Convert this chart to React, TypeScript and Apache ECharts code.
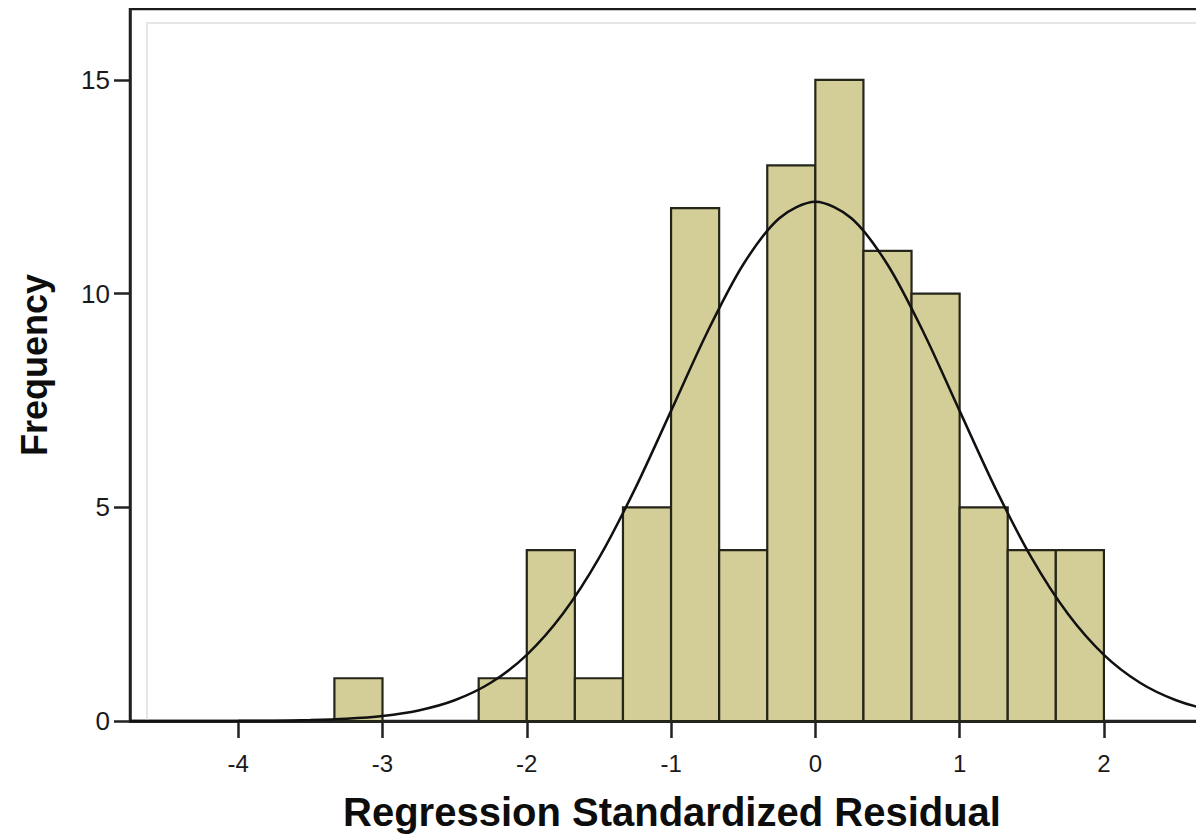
import React, { useEffect, useRef } from "react";
import * as echarts from "echarts";

// Histogram bins (left edges) and frequencies
const binWidth = 1 / 3;
const binStarts = [-10 / 3, -7 / 3, -2, -5 / 3, -4 / 3, -1, -2 / 3, -1 / 3, 0, 1 / 3, 2 / 3, 1, 4 / 3, 5 / 3];
const counts = [1, 1, 4, 1, 5, 12, 4, 13, 15, 11, 10, 5, 4, 4];

// Normal curve
const curveX = [-4.75, -4.5, -4.25, -4, -3.75, -3.5, -3.25, -3, -2.75, -2.5, -2.25, -2, -1.75, -1.5, -1.25, -1, -0.75, -0.5, -0.25, 0, 0.25, 0.5, 0.75, 1, 1.25, 1.5, 1.75, 2, 2.25, 2.5, 2.75, 3];
const curveY = [0.0001, 0.0004, 0.0011, 0.0032, 0.0087, 0.022, 0.053, 0.118, 0.247, 0.485, 0.894, 1.547, 2.508, 3.81, 5.431, 7.257, 9.092, 10.681, 11.765, 12.15, 11.765, 10.681, 9.092, 7.257, 5.431, 3.81, 2.508, 1.547, 0.894, 0.485, 0.247, 0.118];

// Axis ticks
const xTicks = [-4, -3, -2, -1, 0, 1, 2];
const yTicks = [0, 5, 10, 15];

const FONT = "'Liberation Sans', Arial, sans-serif";

export default function App() {
  const ref = useRef<HTMLDivElement>(null);
  useEffect(() => {
    if (!ref.current) return;
    const chart = echarts.init(ref.current, null, { renderer: "svg" });
    const barData = binStarts.map((s, i) => [s, s + binWidth, counts[i]]);
    const lineData = curveX.map((x, i) => [x, curveY[i]]);
    chart.setOption({
      animation: false,
      backgroundColor: "#ffffff",
      grid: {
        left: 120,
        top: 1,
        width: 1100,
        height: 712,
        show: true,
        borderColor: "#1a1a1a",
        borderWidth: 2.5,
        backgroundColor: "transparent",
      },
      graphic: [
        {
          type: "polyline",
          z: 1,
          silent: true,
          shape: { points: [[139, 713], [139, 15], [1194, 15], [1194, 713]] },
          style: { stroke: "#e6e6e6", lineWidth: 2, fill: "none" },
        },
      ],
      xAxis: {
        type: "value",
        min: -4.75,
        max: 2.86,
        name: "Regression Standardized Residual",
        nameLocation: "middle",
        nameGap: 71,
        nameTextStyle: { fontFamily: FONT, fontSize: 40, fontWeight: "bold", color: "#0d0d0d", padding: [0, 14, 0, 0] },
        axisLine: { show: true, onZero: false, lineStyle: { color: "#222", width: 3 } },
        axisTick: { show: true, length: 17, customValues: xTicks, lineStyle: { color: "#222", width: 2.5 } },
        axisLabel: { customValues: xTicks, fontFamily: FONT, fontSize: 24, color: "#1a1a1a", margin: 30 },
        splitLine: { show: false },
      },
      yAxis: {
        type: "value",
        min: 0,
        max: 16.66,
        name: "Frequency",
        nameLocation: "middle",
        nameGap: 78,
        nameTextStyle: { fontFamily: FONT, fontSize: 36, fontWeight: "bold", color: "#0d0d0d" },
        axisLine: { show: true, onZero: false, lineStyle: { color: "#222", width: 2.5 } },
        axisTick: { show: true, length: 16, customValues: yTicks, lineStyle: { color: "#222", width: 2.5 } },
        axisLabel: { customValues: yTicks, fontFamily: FONT, fontSize: 26, color: "#1a1a1a", margin: 20 },
        splitLine: { show: false },
      },
      series: [
        {
          type: "custom",
          z: 2,
          data: barData,
          encode: { x: [0, 1], y: 2 },
          renderItem: (params: any, api: any) => {
            const p0 = api.coord([api.value(0), api.value(2)]);
            const p1 = api.coord([api.value(1), 0]);
            return {
              type: "rect",
              shape: { x: p0[0], y: p0[1], width: p1[0] - p0[0], height: p1[1] - p0[1] },
              style: { fill: "#d3ce97", stroke: "#26251a", lineWidth: 2.2 },
            };
          },
        },
        {
          type: "line",
          z: 3,
          data: lineData,
          smooth: 0.3,
          showSymbol: false,
          symbol: "none",
          clip: true,
          lineStyle: { color: "#111", width: 2.5 },
        },
      ],
    });
    return () => chart.dispose();
  }, []);
  return (
    <div style={{ width: 1196, height: 831, overflow: "hidden" }}>
      <div ref={ref} style={{ width: 1240, height: 831 }} />
    </div>
  );
}
